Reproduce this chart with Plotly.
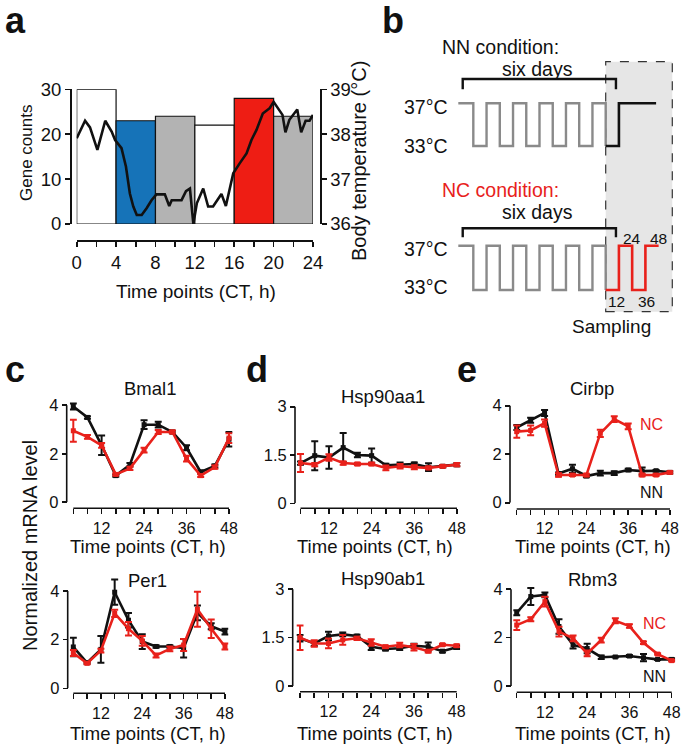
import plotly.graph_objects as go

W, H = 685, 748
FONT = "Liberation Sans, Arial, Helvetica, sans-serif"
BLACK = "#111111"
RED = "#e8211b"
GRAY_LINE = "#8a8a8a"


def px(x):
    return x / W


def py(y):
    return 1 - y / H


# ---------------- panel a data ----------------
bin_centers = [2, 6, 10, 14, 18, 22]
gene_counts = [30, 23, 24, 22, 28, 24]
bin_colors = ["#ffffff", "#1673b8", "#b3b3b3", "#ffffff", "#ee1d14", "#b3b3b3"]
temp_ct = [0, 0.85, 1.35, 2.1, 2.9, 3.55, 3.9, 4.55, 5.0, 5.4, 5.75, 6.1, 6.6, 7.1, 7.6,
           8.1, 8.95, 9.4, 9.65, 10.65, 11.1, 11.5, 11.85, 12.2, 12.85, 13.35, 13.85,
           14.7, 15.15, 15.55, 15.9, 16.55, 17.25, 17.75, 18.25, 18.9, 19.25, 19.6,
           20.0, 20.6, 20.9, 21.2, 21.6, 22.4, 22.8, 23.25, 23.65, 24.0]
temp_c = [37.91, 38.30, 38.15, 37.65, 38.30, 38.06, 37.87, 37.69, 37.28, 36.68, 36.39,
          36.2, 36.2, 36.35, 36.53, 36.66, 36.66, 36.4, 36.53, 36.53, 36.73, 36.79, 36.0,
          36.46, 36.79, 36.39, 36.39, 36.67, 36.4, 36.83, 37.13, 37.35, 37.57, 37.87,
          38.09, 38.46, 38.53, 38.58, 38.72, 38.54, 38.43, 38.04, 38.32, 38.55, 38.04,
          38.30, 38.30, 38.43]
a_xticks = [0, 2, 4, 6, 8, 10, 12, 14, 16, 18, 20, 22, 24]
a_xlabels = ["0", "", "4", "", "8", "", "12", "", "16", "", "20", "", "24"]
a_yticks = [0, 10, 20, 30]
a_y2ticks = [36, 37, 38, 39]

# ---------------- panel b schematic (hours from sampling start, deg C) ----------------
gray_t = [-133.6, -120, -108, -96, -84, -72, -60, -48, -36, -24, -12, 0]
gray_temp = [37, 33, 37, 33, 37, 33, 37, 33, 37, 33, 37, 33]
nn_t = [0, 12, 45.7]
nn_temp = [33, 37, 37]
nc_t = [0, 12, 24, 36, 48]
nc_temp = [33, 37, 33, 37, 37]
six_days_span = [-129.6, 9.3]

# ---------------- panels c-e data ----------------
ct = [4, 8, 12, 16, 20, 24, 28, 32, 36, 40, 44, 48]
ct_labels = ["", "", "12", "", "", "24", "", "", "36", "", "", "48"]

bmal1_nn = [3.95, 3.5, 2.35, 1.1, 1.55, 3.2, 3.2, 2.9, 2.25, 1.25, 1.5, 2.6]
bmal1_nn_err = [0.12, 0.05, 0.4, 0.05, 0.07, 0.18, 0.12, 0.05, 0.1, 0.06, 0.06, 0.3]
bmal1_nc = [2.95, 2.7, 2.35, 1.15, 1.4, 2.15, 2.9, 2.9, 1.8, 1.1, 1.45, 2.65]
bmal1_nc_err = [0.45, 0.08, 0.1, 0.05, 0.07, 0.1, 0.08, 0.06, 0.12, 0.06, 0.07, 0.2]

per1_nn = [1.7, 1.05, 1.6, 3.95, 2.8, 1.92, 1.72, 1.72, 1.65, 3.1, 2.55, 2.33]
per1_nn_err = [0.38, 0.04, 0.55, 0.52, 0.3, 0.3, 0.05, 0.05, 0.38, 0.3, 0.12, 0.12]
per1_nc = [1.45, 1.03, 1.55, 3.08, 2.45, 1.95, 1.35, 1.62, 1.78, 3.25, 2.45, 1.72]
per1_nc_err = [0.12, 0.04, 0.08, 0.15, 0.28, 0.2, 0.08, 0.1, 0.25, 0.72, 0.38, 0.12]

hsp90aa1_nn = [1.25, 1.48, 1.42, 1.73, 1.5, 1.48, 1.18, 1.2, 1.22, 1.12, 1.15, 1.2]
hsp90aa1_nn_err = [0.05, 0.45, 0.35, 0.45, 0.07, 0.22, 0.05, 0.07, 0.05, 0.12, 0.03, 0.05]
hsp90aa1_nc = [1.25, 1.2, 1.42, 1.25, 1.22, 1.22, 1.1, 1.15, 1.12, 1.1, 1.15, 1.2]
hsp90aa1_nc_err = [0.28, 0.05, 0.1, 0.05, 0.04, 0.04, 0.07, 0.07, 0.06, 0.04, 0.04, 0.05]

hsp90ab1_nn = [1.48, 1.32, 1.55, 1.6, 1.55, 1.22, 1.15, 1.17, 1.25, 1.22, 1.08, 1.2]
hsp90ab1_nn_err = [0.1, 0.08, 0.13, 0.06, 0.04, 0.1, 0.05, 0.05, 0.06, 0.13, 0.04, 0.05]
hsp90ab1_nc = [1.5, 1.32, 1.32, 1.43, 1.48, 1.35, 1.22, 1.27, 1.2, 1.08, 1.28, 1.25]
hsp90ab1_nc_err = [0.38, 0.1, 0.15, 0.15, 0.05, 0.1, 0.04, 0.07, 0.1, 0.04, 0.03, 0.04]

cirbp_nn = [3.1, 3.4, 3.7, 1.2, 1.4, 1.1, 1.22, 1.22, 1.35, 1.3, 1.32, 1.25]
cirbp_nn_err = [0.1, 0.1, 0.12, 0.05, 0.17, 0.05, 0.1, 0.08, 0.05, 0.15, 0.03, 0.05]
cirbp_nc = [2.93, 2.98, 3.28, 1.14, 1.14, 1.14, 2.86, 3.45, 3.15, 1.14, 1.14, 1.25]
cirbp_nc_err = [0.25, 0.2, 0.15, 0.07, 0.04, 0.05, 0.15, 0.12, 0.12, 0.05, 0.04, 0.05]

rbm3_nn = [3.03, 3.7, 3.77, 2.46, 1.7, 1.55, 1.19, 1.2, 1.24, 1.17, 1.1, 1.1]
rbm3_nn_err = [0.1, 0.35, 0.1, 0.3, 0.15, 0.2, 0.07, 0.02, 0.04, 0.15, 0.02, 0.05]
rbm3_nc = [2.52, 2.76, 3.49, 2.25, 1.97, 1.35, 1.9, 2.7, 2.48, 1.79, 1.32, 1.05]
rbm3_nc_err = [0.2, 0.08, 0.2, 0.2, 0.12, 0.12, 0.1, 0.1, 0.07, 0.05, 0.03, 0.04]

fig = go.Figure()
layout = {}
annotations = []
shapes = []


def ann(text, x, y, size, color=BLACK, bold=False, angle=0, xanchor="center"):
    annotations.append(dict(
        text=("<b>%s</b>" % text) if bold else text,
        x=px(x), y=py(y), xref="paper", yref="paper", showarrow=False,
        xanchor=xanchor, yanchor="middle", textangle=angle, borderpad=0,
        font=dict(family=FONT, size=size, color=color)))


# ---------------- panel a ----------------
fig.add_trace(go.Bar(x=bin_centers, y=gene_counts, width=4,
                     marker=dict(color=bin_colors, line=dict(color=BLACK, width=1.2)),
                     xaxis="x", yaxis="y", showlegend=False))
fig.add_trace(go.Scatter(x=temp_ct, y=temp_c, mode="lines",
                         line=dict(color=BLACK, width=2.6),
                         xaxis="x", yaxis="y2", showlegend=False))
axis_common = dict(showgrid=False, zeroline=False, showline=True, linecolor=BLACK,
                   linewidth=1.6, ticks="outside", tickcolor=BLACK, tickwidth=1.6,
                   fixedrange=True, automargin=False)
layout["xaxis"] = dict(axis_common, domain=[px(76.7), px(313)], range=[0, 24],
                       anchor="free", position=py(240), tickvals=a_xticks,
                       ticktext=a_xlabels, ticklen=5,
                       tickfont=dict(family=FONT, size=18.5, color=BLACK))
layout["yaxis"] = dict(axis_common, domain=[py(224), py(89.3)], range=[0, 30],
                       anchor="free", position=px(70), tickvals=a_yticks, ticklen=5,
                       tickfont=dict(family=FONT, size=18.5, color=BLACK))
layout["yaxis2"] = dict(axis_common, overlaying="y", side="right", range=[36, 39],
                        anchor="free", position=px(320), tickvals=a_y2ticks, ticklen=5,
                        tickfont=dict(family=FONT, size=18.5, color=BLACK))
ann("Gene counts", 26, 153, 17, angle=-90)
ann("Body temperature (°C)", 359, 161, 20, angle=-90)
ann("Time points (CT, h)", 196, 291, 19)
ann("a", 15, 20.5, 36, bold=True)

# ---------------- panel b ----------------
hidden = dict(visible=False, fixedrange=True, showgrid=False, zeroline=False,
              automargin=False)
b_xrange = [-150.2, 71.9]
layout["xaxis2"] = dict(hidden, domain=[px(440), px(685)], range=b_xrange, anchor="y3")
layout["yaxis3"] = dict(hidden, domain=[py(160), py(90)], range=[31.689, 38.246], anchor="x2")
layout["xaxis3"] = dict(hidden, domain=[px(440), px(685)], range=b_xrange, anchor="y4")
layout["yaxis4"] = dict(hidden, domain=[py(300), py(232)], range=[32.097, 38.237], anchor="x3")

for xa, ya in (("x2", "y3"), ("x3", "y4")):
    fig.add_trace(go.Scatter(x=gray_t, y=gray_temp, mode="lines", line_shape="hv",
                             line=dict(color=GRAY_LINE, width=2.4),
                             xaxis=xa, yaxis=ya, showlegend=False))
fig.add_trace(go.Scatter(x=nn_t, y=nn_temp, mode="lines", line_shape="hv",
                         line=dict(color=BLACK, width=2.6),
                         xaxis="x2", yaxis="y3", showlegend=False))
fig.add_trace(go.Scatter(x=nc_t, y=nc_temp, mode="lines", line_shape="hv",
                         line=dict(color=RED, width=2.6),
                         xaxis="x3", yaxis="y4", showlegend=False))

# sampling box
shapes.append(dict(type="rect", xref="paper", yref="paper",
                   x0=px(605.7), x1=px(672.3), y0=py(311.7), y1=py(61.7),
                   fillcolor="#e6e6e6", line=dict(color="#333333", width=1.2, dash="dash"),
                   layer="below"))


def bracket(xref, y_top, y_bot):
    return dict(type="path", xref=xref, yref="paper",
                path="M %f,%f L %f,%f L %f,%f L %f,%f" % (
                    six_days_span[0], py(y_bot), six_days_span[0], py(y_top),
                    six_days_span[1], py(y_top), six_days_span[1], py(y_bot)),
                line=dict(color=BLACK, width=2.4))


shapes.append(bracket("x2", 79, 89.3))
shapes.append(bracket("x3", 228.3, 237.3))

ann("b", 393, 20.5, 36, bold=True)
ann("NN condition:", 500.5, 46.7, 19.5)
ann("six days", 537, 69, 19.5)
ann("37°C", 449.3, 107.3, 19.5, xanchor="right")
ann("33°C", 449.3, 145.7, 19.5, xanchor="right")
ann("NC condition:", 500.5, 190, 19.5, color=RED)
ann("six days", 537, 212.3, 19.5)
ann("37°C", 449.3, 249, 19.5, xanchor="right")
ann("33°C", 449.3, 286.7, 19.5, xanchor="right")
ann("24", 631.5, 238.3, 15.5)
ann("48", 658.5, 238.3, 15.5)
ann("12", 616.5, 301.7, 15.5)
ann("36", 646.5, 301.7, 15.5)
ann("Sampling", 611, 326, 19)

# ---------------- panels c-e ----------------
panels = [
    # title, nn, nn_err, nc, nc_err, x4px, x48px, y0px, ytop px, ymax, xaxis y px, yaxis x px, yticks, title pos
    ("Bmal1", bmal1_nn, bmal1_nn_err, bmal1_nc, bmal1_nc_err,
     73.3, 229, 502.3, 405.3, 4, 508.3, 66.7, [0, 2, 4], ["0", "2", "4"], (150, 388)),
    ("Per1", per1_nn, per1_nn_err, per1_nc, per1_nc_err,
     73.3, 225, 688.3, 591, 4, 693.3, 67.7, [0, 2, 4], ["0", "2", "4"], (147.5, 580)),
    ("Hsp90aa1", hsp90aa1_nn, hsp90aa1_nn_err, hsp90aa1_nc, hsp90aa1_nc_err,
     300.5, 457, 503.3, 406.7, 3, 508.3, 295, [0, 1.5, 3], ["0", "1.5", "3"], (382.5, 396)),
    ("Hsp90ab1", hsp90ab1_nn, hsp90ab1_nn_err, hsp90ab1_nc, hsp90ab1_nc_err,
     300, 456.7, 686, 589.3, 3, 691.7, 292.7, [0, 1.5, 3], ["0", "1.5", "3"], (382.5, 578)),
    ("Cirbp", cirbp_nn, cirbp_nn_err, cirbp_nc, cirbp_nc_err,
     516.7, 670, 502.7, 405.7, 4, 509, 510, [0, 2, 4], ["0", "2", "4"], (592, 388)),
    ("Rbm3", rbm3_nn, rbm3_nn_err, rbm3_nc, rbm3_nc_err,
     516.7, 671.7, 686, 589.3, 4, 692.3, 511, [0, 2, 4], ["0", "2", "4"], (592.5, 579)),
]

PAD_H = 1.0  # hours of padding around the CT 4-48 axis so end error bars are not clipped
for i, (title, nn, nn_err, nc, nc_err, x4, x48, y0, ytop, ymax, xay, yax,
        ytv, ytt, tpos) in enumerate(panels):
    xi = i + 4
    yi = i + 5
    xname, yname = "x%d" % xi, "y%d" % yi
    sx = (x48 - x4) / (ct[-1] - ct[0])
    sy = (y0 - ytop) / ymax
    y_ext = 0.16 * ymax
    layout["xaxis%d" % xi] = dict(axis_common, showline=False,
                                  domain=[px(x4 - PAD_H * sx), px(x48 + PAD_H * sx)],
                                  range=[ct[0] - PAD_H, ct[-1] + PAD_H],
                                  anchor="free", position=py(xay), tickvals=ct,
                                  ticktext=ct_labels, ticklen=5,
                                  tickfont=dict(family=FONT, size=16, color=BLACK))
    layout["yaxis%d" % yi] = dict(axis_common, showline=False,
                                  domain=[py(y0), py(ytop - y_ext * sy)],
                                  range=[0, ymax + y_ext],
                                  anchor="free", position=px(yax), tickvals=ytv,
                                  ticktext=ytt, ticklen=5,
                                  tickfont=dict(family=FONT, size=16.5, color=BLACK))
    # offset axis lines spanning only the data extent
    shapes.append(dict(type="line", xref=xname, yref="paper", x0=ct[0], x1=ct[-1],
                       y0=py(xay), y1=py(xay), line=dict(color=BLACK, width=1.6)))
    shapes.append(dict(type="line", xref="paper", yref=yname, x0=px(yax), x1=px(yax),
                       y0=0, y1=ymax, line=dict(color=BLACK, width=1.6)))
    for vals, errs, col in ((nn, nn_err, BLACK), (nc, nc_err, RED)):
        fig.add_trace(go.Scatter(
            x=ct, y=vals, mode="lines+markers", cliponaxis=False,
            line=dict(color=col, width=2.6),
            marker=dict(color=col, size=5, symbol="square"),
            error_y=dict(type="data", array=errs, visible=True, color=col,
                         thickness=2, width=3.5),
            xaxis=xname, yaxis=yname, showlegend=False))
    ann(title, tpos[0], tpos[1], 18.5)

ann("Time points (CT, h)", 147.5, 546.5, 18.5)
ann("Time points (CT, h)", 147.5, 733, 18.5)
ann("Time points (CT, h)", 375, 546.5, 18.5)
ann("Time points (CT, h)", 375, 733, 18.5)
ann("Time points (CT, h)", 593, 546.5, 18.5)
ann("Time points (CT, h)", 593, 733, 18.5)
ann("Normalized mRNA level", 30, 546, 20, angle=-90)
ann("NC", 651.7, 424.3, 16, color=RED)
ann("NN", 651.7, 492.7, 16)
ann("NC", 654.3, 623.3, 16, color=RED)
ann("NN", 654.3, 676.7, 16)
ann("c", 15, 369.5, 36, bold=True)
ann("d", 257, 369.5, 36, bold=True)
ann("e", 467, 369.5, 36, bold=True)

fig.update_layout(
    template="none",
    width=W, height=H, autosize=False,
    margin=dict(l=0, r=0, t=0, b=0, pad=0, autoexpand=False),
    paper_bgcolor="white", plot_bgcolor="rgba(0,0,0,0)",
    font=dict(family=FONT, color=BLACK),
    annotations=annotations, shapes=shapes, bargap=0, hovermode=False,
    **layout)

fig.write_html("out.html", config={"displayModeBar": False, "staticPlot": True},
               post_script="document.body.style.margin='0';document.body.style.padding='0';")
